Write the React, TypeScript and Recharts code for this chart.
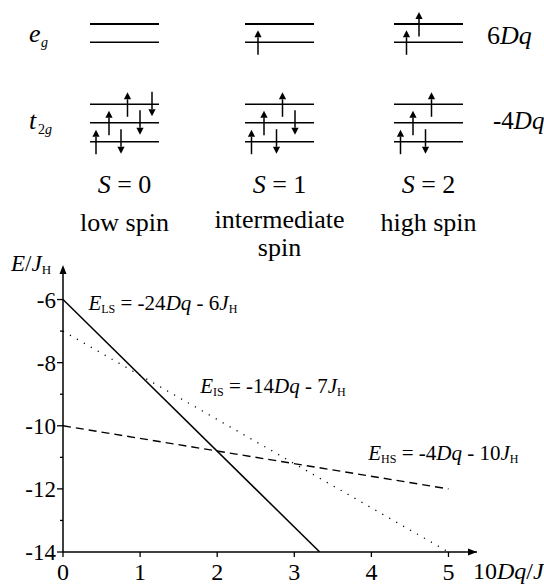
import React from 'react';
import { LineChart, Line, XAxis, YAxis, ReferenceDot } from 'recharts';

// Energies of the three spin states versus crystal-field splitting
const dqTicks = [0, 1, 2, 3, 4, 5];
const energyTicks = [-14, -13, -12, -11, -10, -9, -8, -7, -6];
const energyLabels = [-14, -12, -10, -8, -6];
const lowSpinLine = [{ dq: 0, e: -6 }, { dq: 3.33, e: -14 }];
const intermediateLine = [{ dq: 0, e: -7 }, { dq: 5, e: -14 }];
const highSpinLine = [{ dq: 0, e: -10 }, { dq: 5, e: -12 }];

// Electron configurations: [level, direction (1 up, -1 down), x offset in the box]
// levels 0..2 are t2g (bottom to top), 3..4 are eg (bottom, top)
const lowSpinElectrons: [number, number, number][] = [
  [0, 1, 6], [0, -1, 31], [1, 1, 19], [1, -1, 50], [2, 1, 37.5], [2, -1, 62],
];
const intermediateElectrons: [number, number, number][] = [
  [0, 1, 6.5], [0, -1, 31.5], [1, 1, 19], [1, -1, 50], [2, 1, 37.5], [3, 1, 13],
];
const highSpinElectrons: [number, number, number][] = [
  [0, 1, 6.5], [0, -1, 31.5], [1, 1, 19], [2, 1, 37.5], [3, 1, 12.5], [4, 1, 25],
];
const spinValues = [0, 1, 2];
const spinNames = [['low spin'], ['intermediate', 'spin'], ['high spin']];

const FONT = 'Liberation Serif';
const W = 544;
const H = 585;

const levelY = [141.7, 122.7, 104.3, 42.3, 24];
const groupX = [90, 245, 394];
const groupW = 69;

const txt = { fontFamily: FONT } as React.CSSProperties;

const ElectronArrow = ({ x, y, dir }: { x: number; y: number; dir: number }) => {
  const tip = y - 12 * dir;
  const tail = y + 12.5 * dir;
  const base = tip + 7 * dir;
  return (
    <g>
      <line x1={x} y1={tail} x2={x} y2={base} stroke="#000" strokeWidth={1.5} />
      <path d={`M${x},${tip} L${x - 3.6},${base} L${x + 3.6},${base} Z`} fill="#000" />
    </g>
  );
};

const LevelDiagram = () => {
  const configs = [lowSpinElectrons, intermediateElectrons, highSpinElectrons];
  return (
    <svg width={W} height={H} style={{ position: 'absolute', left: 0, top: 0, pointerEvents: 'none' }}>
      <g style={txt} fill="#000">
        {/* level labels */}
        <text x={29} y={42} fontSize={26} fontStyle="italic">e</text>
        <text x={41} y={47} fontSize={14} fontStyle="italic">g</text>
        <text x={29} y={129} fontSize={26} fontStyle="italic">t</text>
        <text x={38} y={134} fontSize={14}>2<tspan fontStyle="italic">g</tspan></text>
        <text x={487} y={44} fontSize={26}>6<tspan fontStyle="italic">Dq</tspan></text>
        <text x={493} y={129} fontSize={25}>-4<tspan fontStyle="italic">Dq</tspan></text>
      </g>
      {groupX.map((gx, gi) => (
        <g key={gi} style={txt}>
          {levelY.map((ly, li) => (
            <line key={li} x1={gx} x2={gx + groupW} y1={ly} y2={ly} stroke="#000"
              strokeWidth={li === 4 ? 2.2 : 1.6} />
          ))}
          {configs[gi].map(([lv, dir, off], ai) => (
            <ElectronArrow key={ai} x={gx + off} y={levelY[lv]} dir={dir} />
          ))}
          <text x={gx + groupW / 2} y={193} fontSize={26} textAnchor="middle">
            <tspan fontStyle="italic">S</tspan> = {spinValues[gi]}
          </text>
          {spinNames[gi].map((line, k) => (
            <text key={k} x={gx + groupW / 2} y={(spinNames[gi].length > 1 ? 228 : 231) + k * 28}
              fontSize={26} textAnchor="middle">{line}</text>
          ))}
        </g>
      ))}
      {/* axis titles */}
      <text x={11} y={271} fontSize={23} style={txt}>
        <tspan fontStyle="italic">E</tspan>/<tspan fontStyle="italic">J</tspan>
        <tspan fontSize={13} dy={3}>H</tspan>
      </text>
      <text x={473} y={579} fontSize={24} style={txt}>
        10<tspan fontStyle="italic">Dq</tspan>/<tspan fontStyle="italic">J</tspan>
        <tspan fontSize={13} dy={3}>H</tspan>
      </text>
    </svg>
  );
};

const XTick = (props: any) => {
  const { x, y, payload } = props;
  return (
    <g>
      <line x1={x} x2={x} y1={y} y2={y + 5} stroke="#000" strokeWidth={1.3} />
      <text x={x} y={y + 28} textAnchor="middle" fontSize={24} style={txt} fill="#000">
        {payload.value}
      </text>
    </g>
  );
};

const YTick = (props: any) => {
  const { x, y, payload } = props;
  const major = energyLabels.includes(payload.value);
  return (
    <g>
      <line x1={x - (major ? 6 : 3)} x2={x} y1={y} y2={y} stroke="#000" strokeWidth={1.3} />
      {major && (
        <text x={x - 7} y={y + 8} textAnchor="end" fontSize={23} style={txt} fill="#000">
          {payload.value}
        </text>
      )}
    </g>
  );
};

const Formula = (coef: string, constant: string, sub: string) => (p: any) => (
  <text x={p.cx} y={p.cy} fontSize={21} style={txt} fill="#000">
    <tspan fontStyle="italic">E</tspan>
    <tspan fontSize={12} dy={3}>{sub}</tspan>
    <tspan dy={-3}>{` = ${coef}`}</tspan>
    <tspan fontStyle="italic">Dq</tspan>
    <tspan>{` - ${constant}`}</tspan>
    <tspan fontStyle="italic">J</tspan>
    <tspan fontSize={12} dy={3}>H</tspan>
  </text>
);

const XArrow = (p: any) => (
  <path d={`M${p.cx},${p.cy} L${p.cx - 9},${p.cy - 3.5} L${p.cx - 9},${p.cy + 3.5} Z`} fill="#000" />
);
const YArrow = (p: any) => (
  <path d={`M${p.cx},${p.cy - 3} L${p.cx - 3.5},${p.cy + 6} L${p.cx + 3.5},${p.cy + 6} Z`} fill="#000" />
);

export default function App() {
  return (
    <div style={{ position: 'absolute', left: 0, top: 0, width: W, height: H, background: '#fff', fontFamily: FONT }}>
      <LineChart width={W} height={H} margin={{ top: 268, right: 67, bottom: 0, left: 0 }}>
        <XAxis type="number" dataKey="dq" domain={[0, 5.37]} ticks={dqTicks} interval={0}
          allowDataOverflow height={33} tickSize={0} tickMargin={0} tickLine={false}
          tick={<XTick />} axisLine={{ stroke: '#000', strokeWidth: 1.5 }} />
        <YAxis type="number" dataKey="e" domain={[-14, -5]} ticks={energyTicks} interval={0}
          allowDataOverflow width={63} tickSize={0} tickMargin={0} tickLine={false}
          tick={<YTick />} axisLine={{ stroke: '#000', strokeWidth: 1.5 }} />
        <Line data={highSpinLine} dataKey="e" stroke="#000" strokeWidth={1.4}
          strokeDasharray="8 5" dot={false} activeDot={false} isAnimationActive={false} />
        <Line data={intermediateLine} dataKey="e" stroke="#000" strokeWidth={1.3}
          strokeDasharray="1.2 6.8" dot={false} activeDot={false} isAnimationActive={false} />
        <Line data={lowSpinLine} dataKey="e" stroke="#000" strokeWidth={1.5}
          dot={false} activeDot={false} isAnimationActive={false} />
        <ReferenceDot x={5.37} y={-14} r={0} ifOverflow="visible" shape={XArrow} />
        <ReferenceDot x={0} y={-5} r={0} ifOverflow="visible" shape={YArrow} />
        <ReferenceDot x={0.33} y={-6.33} r={0} ifOverflow="visible" shape={Formula('-24', '6', 'LS')} />
        <ReferenceDot x={1.78} y={-8.97} r={0} ifOverflow="visible" shape={Formula('-14', '7', 'IS')} />
        <ReferenceDot x={3.96} y={-11.08} r={0} ifOverflow="visible" shape={Formula('-4', '10', 'HS')} />
      </LineChart>
      <LevelDiagram />
    </div>
  );
}
